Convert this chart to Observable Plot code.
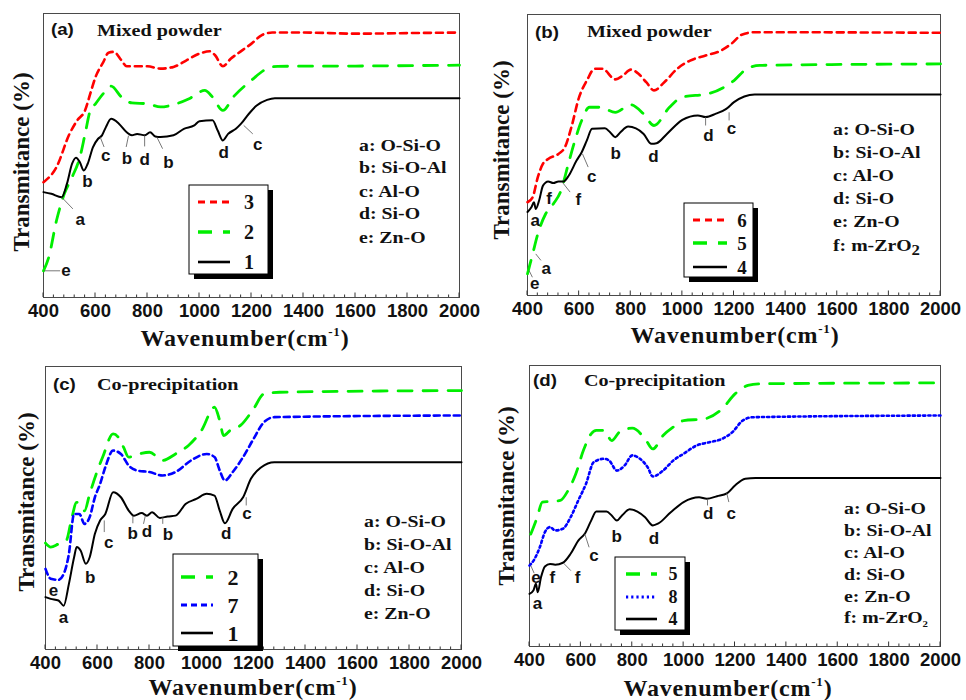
<!DOCTYPE html>
<html><head><meta charset="utf-8">
<script src="https://cdn.jsdelivr.net/npm/d3@7"></script>
<script src="https://cdn.jsdelivr.net/npm/@observablehq/plot@0.6"></script>
<style>
body{margin:0;background:#fff;}
#root{position:relative;width:966px;height:700px;overflow:hidden;background:#fff;}
.panel{position:absolute;}
.panel svg{overflow:visible;}
</style>
</head><body><div id="root"></div>
<script>
// ---------- data ----------
const xTicks = [400, 600, 800, 1000, 1200, 1400, 1600, 1800, 2000];
const minorStep = 40;
const yTitle = "Transmitance (%)";
const xTitle = ["Wavenumber(cm", "-1", ")"];

// panel (a) Mixed powder: samples 3, 2, 1
const a3 = [[400,40.6],[450,45.9],[500,57.6],[530,62.4],[560,65.9],[580,71.8],[600,77.6],[630,82.9],[650,86.2],[670,86.5],[700,83.5],[720,81.4],[800,81.4],[850,80.6],[900,81.2],[950,83.5],[1000,85.9],[1040,86.7],[1060,85.3],[1090,81.4],[1120,84.1],[1150,86.1],[1200,89.4],[1240,92.4],[1280,93.3],[1400,93.3],[1600,92.9],[1800,93.1],[2000,93.3]];
const a2 = [[400,9.4],[420,14.1],[450,27.1],[480,36.5],[510,42.4],[540,49.4],[560,57.6],[580,65.9],[600,68.2],[630,71.8],[660,74.4],[700,70.6],[740,68.5],[800,68.2],[850,67.1],[900,67.9],[960,70],[1020,72.9],[1050,70.6],[1090,65.9],[1130,70.6],[1200,76.5],[1260,80.6],[1300,81.4],[1600,81.5],[2000,81.8]];
const a1 = [[400,37.1],[430,36.5],[470,35.3],[490,40],[510,47.1],[525,49.2],[540,47.6],[555,44.7],[570,47.1],[590,52.9],[610,55.9],[625,57.1],[640,60],[660,62.9],[690,61.2],[720,58.2],[740,57.1],[760,57.6],[790,57.1],[810,58.2],[830,56.7],[850,56.5],[900,57.1],[940,59.4],[980,60.6],[1000,62.1],[1050,62.4],[1070,58.8],[1090,55.3],[1110,57.6],[1140,59.4],[1160,61.2],[1190,64.7],[1220,67.6],[1260,69.6],[1290,70.2],[2000,70.2]];
const aLabels = [[639,50,"c"],[721,48.8,"b"],[789,48.5,"d"],[881,47.6,"b"],[1093,51.2,"d"],[1224,53.9,"c"],[569,40.9,"b"],[541,27.6,"a"],[486,9.4,"e"]];
const aLeaders = [[618,56.5,633,53],[727,57,718,53],[789,57.1,789,53.2],[836,56.5,858,52.4],[1170,60.6,1205,57.6],[470,35.3,513,31.2],[403,9.4,464,9.4]];
const aLegend = ["3","2","1"];
const aBands = [["a: O-Si-O",""],["b: Si-O-Al",""],["c: Al-O",""],["d: Si-O",""],["e: Zn-O",""]];
const aTitle = ["(a)","Mixed powder"];

// panel (b) Mixed powder: samples 6, 5, 4
const b6 = [[400,33.2],[420,35],[440,42.1],[460,46.9],[480,48.6],[520,50.4],[545,52.8],[570,59.9],[600,70.6],[630,76.5],[660,80.7],[690,80.7],[740,76.9],[770,78.3],[800,80.4],[830,78.9],[860,75.9],[890,73],[930,75.9],[980,80.7],[1030,83.6],[1090,85.4],[1150,87.2],[1190,89.6],[1230,92.8],[1280,93.7],[2000,93.5]];
const b5 = [[400,7.7],[420,14.8],[440,21.9],[470,29],[500,32.6],[530,37.4],[555,45.7],[580,54],[610,62.3],[640,67],[680,67],[740,65.2],[800,67.9],[850,64.6],[890,60.5],[950,67],[1000,70.6],[1100,71.8],[1200,76.5],[1250,80.7],[1300,81.9],[2000,82.4]];
const b4 = [[400,29.7],[415,31.4],[425,33.2],[432,30.8],[445,33.8],[460,39.1],[480,40.6],[500,40],[520,40.6],[540,40.6],[560,42.7],[590,48],[610,51],[630,55.2],[650,59.3],[700,59.5],[720,58.1],[740,56.3],[760,58.1],[790,60.1],[820,59.5],[850,57.5],[880,54],[900,54.2],[940,57.5],[1000,62.5],[1060,64.1],[1090,63.5],[1130,64.7],[1170,66.4],[1200,68.8],[1240,70.8],[1280,71.5],[2000,71.5]];
const bLabels = [[430,26.7,"a"],[484,34.4,"f"],[597,34.2,"f"],[649,42.5,"c"],[742,50.4,"b"],[888,49.5,"d"],[1101,56.9,"d"],[1190,59.5,"c"],[473,9.5,"a"],[428,4.2,"e"]];
const bLeaders = [[535,40.3,565,36.8],[613,50.4,635,45.7],[1090,63.5,1090,60.5],[1181,65.2,1181,62.3],[432,14.8,452,12.5],[406,8.9,419,6.5]];
const bLegend = ["6","5","4"];
const bBands = [["a: O-Si-O",""],["b: Si-O-Al",""],["c: Al-O",""],["d: Si-O",""],["e: Zn-O",""],["f: m-ZrO","2"]];
const bTitle = ["(b)","Mixed powder"];

// panel (c) Co-precipitation: samples 2, 7, 1
const c2 = [[400,37.6],[420,36.2],[450,37.3],[480,38.5],[500,46],[520,52],[550,49],[570,55],[600,63.3],[620,68],[660,76.2],[680,75],[700,71.5],[720,68],[760,69.1],[800,69.7],[850,66.8],[900,69.1],[950,72.1],[1000,77.4],[1050,85.6],[1070,80.9],[1085,75.6],[1110,77.4],[1150,79.2],[1200,85],[1240,90.3],[1300,90.9],[2000,91.5]];
const c7 = [[400,28.5],[420,25],[450,24.6],[470,26.7],[490,33.8],[510,47.9],[530,47.9],[550,44.4],[570,46.8],[590,53.8],[610,58.5],[630,64.4],[660,70.3],[690,69.1],[720,65],[750,63.3],[800,62.7],[850,61.5],[900,62.7],[960,66.8],[1020,69.1],[1050,68],[1070,63.3],[1090,59.7],[1120,62.7],[1160,68],[1200,74.4],[1240,80.3],[1280,82.1],[2000,82.7]];
const c1 = [[400,18.5],[420,17.9],[450,17.3],[470,15.5],[490,23.2],[510,32.6],[520,36.2],[535,35],[555,30.3],[570,32.6],[590,40.9],[610,45.6],[630,47.9],[660,55.6],[690,53.8],[720,49.1],[740,47.3],[770,48.2],[790,47.3],[810,48.5],[840,46.5],[870,47],[900,47.3],[940,51.5],[980,53.2],[1020,55],[1050,54.4],[1070,49.1],[1090,44.6],[1120,49.7],[1160,53.8],[1190,60.3],[1230,64.4],[1280,66.2],[2000,66.2]];
const cLabels = [[469,11.4,"a"],[431,20.8,"e"],[572,25.6,"b"],[643,37.9,"c"],[735,41.1,"b"],[790,41.8,"d"],[871,40.6,"b"],[1095,40.9,"d"],[1175,47.9,"c"]];
const cLeaders = [[626,45.6,626,41.5],[736,47.3,736,44.6],[784,47.3,777,44.4],[851,46.8,851,44.4],[1172,53.8,1172,50.9]];
const cLegend = ["2","7","1"];
const cBands = [["a: O-Si-O",""],["b: Si-O-Al",""],["c: Al-O",""],["d: Si-O",""],["e: Zn-O",""]];
const cTitle = ["(c)","Co-precipitation"];

// panel (d) Co-precipitation: samples 5, 8, 4
const d5 = [[405,40],[430,46],[450,51.4],[480,51.6],[520,52],[550,55.5],[580,61.4],[610,69.8],[640,75.7],[660,76.9],[690,76.9],[720,73.3],[750,76.3],[800,77.7],[850,73.9],[880,70.3],[920,75.1],[960,78.1],[1000,80.4],[1080,81],[1150,84.6],[1200,89.9],[1250,92.9],[1300,93.5],[2000,93.8]];
const d8 = [[400,28.8],[420,31.2],[440,35.3],[460,40.7],[480,42.5],[500,41.3],[530,41.9],[560,46],[590,52],[620,57.9],[650,65.6],[690,66.8],[710,66.2],[740,62.6],[770,64.4],[800,68],[830,66.8],[860,63.8],[880,60.5],[920,62.6],[960,66.2],[1000,68.6],[1050,71.5],[1100,72.7],[1150,73.9],[1190,76.3],[1230,80.4],[1270,81.6],[2000,82.2]];
const d4 = [[400,18.7],[415,19.9],[425,22.3],[432,19.3],[445,24.7],[460,28.5],[480,29.4],[500,29.1],[530,29.8],[560,33],[590,37.7],[615,40.1],[640,44.8],[660,48],[700,48],[720,46.6],[740,44.8],[760,46.6],[790,48.8],[820,48],[850,46],[880,43.1],[900,43.7],[950,47.8],[1000,51.4],[1060,53.1],[1090,52.6],[1130,53.5],[1170,54.6],[1200,57.3],[1240,59.7],[1280,60],[2000,60]];
const dLabels = [[431,15.2,"a"],[425,24.7,"e"],[489,24.7,"f"],[587,24.7,"f"],[651,32.4,"c"],[739,39.1,"b"],[884,38.3,"d"],[1096,47.2,"d"],[1185,47.4,"c"]];
const dLeaders = [[405,28.8,418,26.1],[532,29.7,561,27],[615,40.1,632,35.3],[1093,52.6,1093,50.2],[1167,54.9,1176,51.4]];
const dLegend = ["5","8","4"];
const dBands = [["a: O-Si-O",""],["b: Si-O-Al",""],["c: Al-O",""],["d: Si-O",""],["e: Zn-O",""],["f: m-ZrO","2"]];
const dTitle = ["(d)","Co-precipitation"];

// ---------- styles ----------
const RED = {color:"#ff0000", width:2.6, dash:"7,5"};
const GREEN = {color:"#00ee00", width:2.8, dash:"14,11"};
const BLUEDASH = {color:"#0000ff", width:2.6, dash:"6,4"};
const BLUEDOT = {color:"#0000ff", width:2.6, dash:"2.2,3"};
const BLACK = {color:"#000000", width:2, dash:null};
const SERIF = "'Liberation Serif', 'Times New Roman', serif";
const SANS = "'Liberation Sans', Arial, sans-serif";

const panels = [
  {left:0, top:0, w:480, m:[13,21,53,43], series:[[a3,RED],[a2,GREEN],[a1,BLACK]], labels:aLabels, leaders:aLeaders,
   legend:aLegend, legBox:[189,185,268,274], legLine:[198,230], legText:249, legRows:[202,232,262], legFont:20,
   bands:aBands, bandX:359, bandRows:[151,173,197,219,243], subSize:12,
   title:aTitle, tPos:[51,35,97,36], yT:[21,162], xT:[245,346]},
  {left:480, top:0, w:486, m:[14,26,55,47], series:[[b6,RED],[b5,GREEN],[b4,BLACK]], labels:bLabels, leaders:bLeaders,
   legend:bLegend, legBox:[204,203,273,277], legLine:[213,247], legText:262, legRows:[220,243,267], legFont:19,
   bands:bBands, bandX:353, bandRows:[135,158,181,204,227,251], subSize:14,
   title:bTitle, tPos:[55,38,107,37], yT:[21,150], xT:[255,343]},
  {left:0, top:350, w:480, m:[16,19,51,45], series:[[c2,GREEN],[c7,BLUEDASH],[c1,BLACK]], labels:cLabels, leaders:cLeaders,
   legend:cLegend, legBox:[173,204,258,296], legLine:[181,213], legText:233, legRows:[227,255,283], legFont:22,
   bands:cBands, bandX:364, bandRows:[177,200,223,246,269], subSize:12,
   title:cTitle, tPos:[53,40,97,40], yT:[26,152], xT:[253,345]},
  {left:480, top:350, w:486, m:[15,26,54,49], series:[[d5,GREEN],[d8,BLUEDOT],[d4,BLACK]], labels:dLabels, leaders:dLeaders,
   legend:dLegend, legBox:[135,207,205,280], legLine:[146,177], legText:193, legRows:[224,247,269], legFont:18,
   bands:dBands, bandX:364, bandRows:[164,186,208,230,252,273], subSize:9,
   title:dTitle, tPos:[53,36,104,36], yT:[26,146], xT:[248,346]}
];

function overlay(cfg) {
  return (index, scales, values, dims) => {
    const g = d3.create("svg:g");
    const x = scales.x;
    const bottom = dims.height - dims.marginBottom;
    // inward ticks
    d3.range(xTicks[0], xTicks[xTicks.length-1] + 1, minorStep).forEach(v => {
      const major = xTicks.includes(v);
      g.append("line").attr("x1", x(v)).attr("x2", x(v)).attr("y1", bottom).attr("y2", bottom - (major ? 4.5 : 2.5))
        .attr("stroke", "#333").attr("stroke-width", 1);
    });
    // panel titles
    g.append("text").attr("transform", `translate(${cfg.tPos[0]},${cfg.tPos[1]}) scale(1.1,1)`).attr("text-anchor", "start")
      .attr("font-family", SANS).attr("font-weight", "bold").attr("font-size", 17).attr("fill", "#111").text(cfg.title[0]);
    g.append("text").attr("transform", `translate(${cfg.tPos[2]},${cfg.tPos[3]}) scale(1.15,1)`).attr("text-anchor", "start")
      .attr("font-family", SERIF).attr("font-weight", "bold").attr("font-size", 17.5).attr("fill", "#111").text(cfg.title[1]);
    // y title
    g.append("text").attr("transform", `translate(${cfg.yT[0]},${cfg.yT[1]}) rotate(-90)`)
      .attr("text-anchor", "middle").attr("dominant-baseline", "central")
      .attr("font-family", SERIF).attr("font-weight", "bold").attr("font-size", 23).attr("fill", "#111").text(yTitle);
    // x title
    const xt = g.append("text").attr("x", cfg.xT[0]).attr("y", cfg.xT[1]).attr("text-anchor", "middle")
      .attr("font-family", SERIF).attr("font-weight", "bold").attr("font-size", 24).attr("letter-spacing", 0.8).attr("fill", "#111");
    xt.append("tspan").text(xTitle[0]);
    xt.append("tspan").attr("dy", -10).attr("font-size", 13).text(xTitle[1]);
    xt.append("tspan").attr("dy", 10).text(xTitle[2]);
    // band list
    cfg.bands.forEach((b, i) => {
      const t = g.append("text").attr("transform", `translate(${cfg.bandX},${cfg.bandRows[i]}) scale(1.2,1)`).attr("text-anchor", "start")
        .attr("font-family", SERIF).attr("font-weight", "bold").attr("font-size", 16.5).attr("fill", "#111");
      t.append("tspan").text(b[0]);
      if (b[1]) t.append("tspan").attr("dy", 4).attr("font-size", cfg.subSize).text(b[1]);
    });
    // legend box
    const [x0, y0, x1, y1] = cfg.legBox;
    g.append("rect").attr("x", x0 + 5).attr("y", y0 + 5).attr("width", x1 - x0).attr("height", y1 - y0).attr("fill", "#000");
    g.append("rect").attr("x", x0).attr("y", y0).attr("width", x1 - x0).attr("height", y1 - y0)
      .attr("fill", "#fff").attr("stroke", "#000").attr("stroke-width", 1);
    cfg.series.forEach(([, st], i) => {
      const yy = cfg.legRows[i];
      g.append("line").attr("x1", cfg.legLine[0]).attr("x2", cfg.legLine[1]).attr("y1", yy).attr("y2", yy)
        .attr("stroke", st.color).attr("stroke-width", st.width + 0.6).attr("stroke-dasharray", st.dash);
      g.append("text").attr("x", cfg.legText).attr("y", yy).attr("text-anchor", "middle").attr("dominant-baseline", "central")
        .attr("font-family", SERIF).attr("font-weight", "bold").attr("font-size", cfg.legFont).attr("fill", "#111").text(cfg.legend[i]);
    });
    return g.node();
  };
}

const root = document.getElementById("root");
panels.forEach(cfg => {
  const [mt, mr, mb, ml] = cfg.m;
  const marks = [
    Plot.frame({stroke: "#4a4a4a", strokeWidth: 1}),
    ...cfg.series.map(([data, st]) => Plot.line(data, {x: d => d[0], y: d => d[1], stroke: st.color,
      strokeWidth: st.width, strokeDasharray: st.dash, curve: "monotone-x"})),
    Plot.link(cfg.leaders, {x1: d => d[0], y1: d => d[1], x2: d => d[2], y2: d => d[3], stroke: "#555", strokeWidth: 0.8}),
    Plot.text(cfg.labels, {x: d => d[0], y: d => d[1], text: d => d[2], fontFamily: SANS, fontWeight: "bold", fontSize: 17, fill: "#111"}),
    Plot.axisX({ticks: xTicks, tickSize: 0, tickPadding: 6, tickFormat: d => String(d), fontSize: 18.5,
      fontWeight: "bold", fontFamily: SANS, fill: "#111", label: null}),
    overlay(cfg)
  ];
  const chart = Plot.plot({
    width: cfg.w, height: 350, marginTop: mt, marginRight: mr, marginBottom: mb, marginLeft: ml,
    x: {domain: [400, 2000], label: null},
    y: {domain: [0, 100], axis: null},
    style: {background: "transparent", overflow: "visible"},
    marks
  });
  const div = document.createElement("div");
  div.className = "panel";
  div.style.left = cfg.left + "px";
  div.style.top = cfg.top + "px";
  div.appendChild(chart);
  root.appendChild(div);
});
</script>
</body></html>
